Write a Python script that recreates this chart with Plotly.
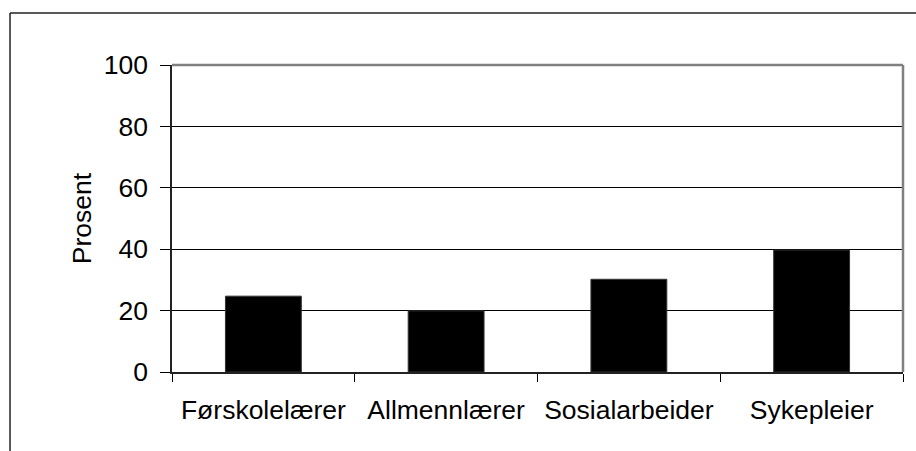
import plotly.graph_objects as go

categories = ["Førskolelærer", "Allmennlærer", "Sosialarbeider", "Sykepleier"]
values = [24.7, 19.9, 30.2, 39.7]
y_ticks = [0, 20, 40, 60, 80, 100]

fig = go.Figure(
    go.Bar(
        x=categories,
        y=values,
        marker=dict(color="black", line=dict(color="#333333", width=1)),
        showlegend=False,
    )
)

FONT = "Liberation Sans, Arial, sans-serif"

fig.update_layout(
    width=916,
    height=451,
    margin=dict(l=172, r=13, t=65, b=79),
    paper_bgcolor="white",
    plot_bgcolor="white",
    bargap=0.585,
    font=dict(family=FONT, size=26, color="black"),
    shapes=[
        # outer chart border (extends beyond the window on right/bottom)
        dict(type="line", xref="paper", yref="paper", x0=-0.2216, x1=-0.2216,
             y0=1.1694, y1=-0.30, line=dict(color="#222222", width=1.5)),
        dict(type="line", xref="paper", yref="paper", x0=-0.2216, x1=1.03,
             y0=1.1694, y1=1.1694, line=dict(color="#222222", width=1.5)),
        # plot-area top and right border in gray
        dict(type="line", xref="paper", yref="paper", x0=0, x1=1,
             y0=1, y1=1, layer="above", line=dict(color="#808080", width=2.5)),
        dict(type="line", xref="paper", yref="paper", x0=1, x1=1,
             y0=0, y1=1, layer="above", line=dict(color="#808080", width=2.5)),
    ],
)

fig.update_xaxes(
    type="category",
    tickson="boundaries",
    ticks="outside",
    ticklen=8,
    tickwidth=1,
    tickcolor="black",
    showline=True,
    linecolor="#222222",
    linewidth=1.5,
    showgrid=False,
    tickfont=dict(family=FONT, size=26.5, color="black"),
    ticklabelstandoff=13,
)

fig.update_yaxes(
    range=[0, 100],
    tickvals=y_ticks,
    ticks="outside",
    ticklen=10,
    tickwidth=1,
    tickcolor="black",
    showline=True,
    linecolor="#222222",
    linewidth=1.5,
    showgrid=True,
    gridcolor="black",
    gridwidth=1,
    zeroline=False,
    tickfont=dict(family=FONT, size=26.5, color="black"),
    ticklabelstandoff=7,
    title=dict(text="Prosent", font=dict(family=FONT, size=26.5, color="black"), standoff=4),
)

fig.write_html(
    "out.html",
    config={"displayModeBar": False},
    post_script="document.body.style.margin='0';document.body.style.overflow='hidden';",
)
